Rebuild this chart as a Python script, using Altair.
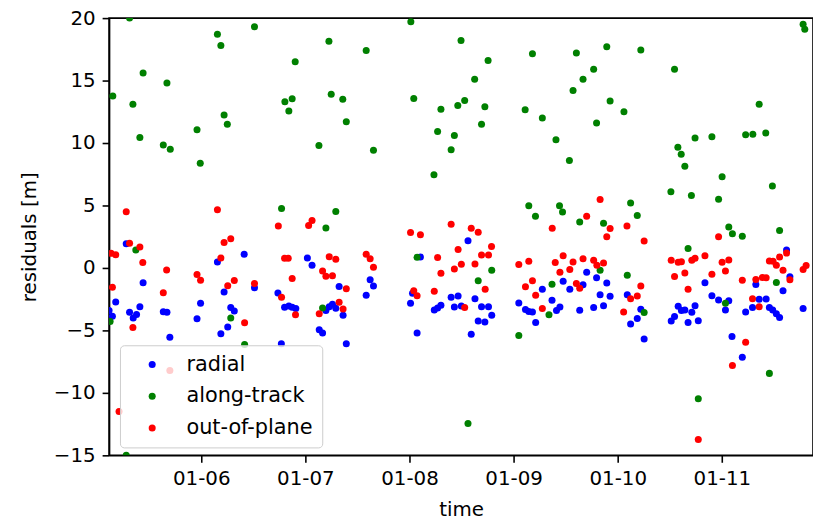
import altair as alt
import pandas as pd

# Day-of-January (fractional) and residual values [m]
radial_day = [5.279, 5.441, 5.178, 5.114, 5.146, 5.311, 5.346, 5.378, 5.41, 5.635, 5.67, 5.698,
              6.155, 6.412, 6.219, 5.993, 5.959, 6.283, 6.317, 6.254, 6.188, 6.511,
              7.019, 6.736, 6.8, 6.841, 6.873, 6.908, 6.769, 7.064, 7.324, 7.26, 7.229, 7.197,
              7.362, 7.292, 7.133, 7.165, 7.393, 7.622, 7.654, 7.584,
              8.105, 8.562, 8.029, 8.01, 8.4, 8.467, 8.629, 8.238, 8.27, 8.302, 8.431, 8.498,
              8.692, 8.759, 8.79, 8.66, 8.724, 8.593, 8.073,
              9.276, 9.369, 9.05, 9.114, 9.146, 9.181, 9.212, 9.702, 9.476, 9.797, 9.895,
              9.54, 9.667, 9.831, 9.927, 9.445, 9.412, 9.635, 9.769, 9.864,
              10.092, 10.222, 10.188, 10.124, 10.254,
              10.838, 11.327, 10.905, 10.969, 11.067, 11.035, 10.581, 10.612, 10.645, 10.712,
              10.743, 10.546, 10.514, 10.676, 10.774, 11.229, 11.359, 11.426, 11.295, 11.457,
              11.489, 11.524, 11.555, 11.098, 11.197, 11.622, 11.654, 11.588, 11.781]
radial_val = [1.94, -1.19, -2.72, -3.4, -3.86, -3.54, -4.0, -3.73, -3.1, -3.5, -3.54, -5.55,
              0.48, 1.09, -1.93, -2.83, -4.07, -3.17, -3.44, -4.73, -5.26, -1.59,
              0.79, -2.0, -3.14, -3.04, -3.14, -3.25, -6.06, 0.21, -1.48, -2.9, -3.1, -3.41,
              -3.78, -3.22, -4.94, -5.21, -6.06, -0.95, -1.45, -2.19,
              0.87, 2.17, -2.03, -2.83, -2.35, -2.25, -2.46, -3.36, -3.2, -2.98, -3.12, -3.04,
              -3.1, -3.1, -3.78, -4.25, -4.33, -5.31, -5.21,
              -1.71, -2.59, -2.8, -3.33, -3.49, -3.52, -4.37, -0.34, -1.06, -0.79, -1.21,
              -1.71, -1.35, -2.14, -2.27, -3.12, -3.41, -3.38, -3.17, -3.02,
              -2.14, -3.3, -4.05, -4.49, -5.68,
              -1.19, -1.32, -2.22, -2.56, -2.62, -3.36, -3.06, -3.41, -3.36, -3.54,
              -3.02, -3.89, -4.25, -4.37, -4.23, -3.52, -2.51, -2.48, -3.17, -3.17,
              -3.36, -3.67, -3.97, -5.48, -7.14, 1.43, -0.71, -1.83, -3.25]

along_day = [5.311, 5.15, 5.441, 5.343, 5.67, 5.41, 5.635, 5.702, 5.959, 5.99,
             6.155, 6.188, 6.219, 6.25, 6.511, 6.803, 6.873, 6.841, 6.902, 7.13, 7.226, 7.248,
             6.771, 7.197, 8.013, 7.584, 8.495, 9.181, 8.755, 8.626, 7.359, 8.041, 8.302,
             8.464, 8.53, 8.724, 9.111, 9.276, 7.393, 8.27, 8.431, 8.692, 9.407, 7.654, 8.4,
             8.235, 7.292, 9.146, 9.21, 9.441, 9.47, 11.781, 11.797, 9.603, 9.895, 10.222,
             9.769, 9.667, 9.571, 10.546, 9.927, 10.06, 9.797, 11.359, 9.536, 10.578, 10.61,
             10.645, 10.743, 10.905, 11.229, 11.298, 11.422, 11.003, 11.486, 10.511, 10.708,
             10.969, 10.124, 10.188, 9.635, 9.864, 11.067, 11.102, 11.197, 11.555,
             5.371, 5.124, 6.283, 6.416, 5.279, 7.165, 8.073, 8.79, 8.66, 9.369, 9.34, 9.05,
             10.676, 9.831, 10.092, 10.254, 11.035, 11.524, 8.562, 11.457, 10.774]
along_val = [20.0, 13.76, 15.6, 13.1, 14.8, 10.45, 9.84, 9.5, 11.06, 8.39,
             18.7, 17.8, 12.25, 11.5, 19.3, 13.3, 13.55, 12.57, 16.5, 9.8, 18.15, 13.9,
             4.76, 3.2, 19.7, 17.4, 18.2, 17.15, 16.6, 15.1, 13.5, 13.57, 12.7,
             13.0, 13.4, 12.9, 12.67, 12.0, 11.7, 10.93, 10.6, 11.5, 10.27, 9.42, 9.47,
             7.46, 4.52, 4.98, 4.13, 4.98, 4.48, 19.5, 19.1, 17.2, 17.7, 17.45,
             15.9, 15.1, 14.2, 15.9, 13.36, 12.5, 11.6, 13.1, 8.6, 9.66, 9.1,
             8.15, 10.4, 10.5, 10.67, 10.7, 10.8, 7.3, 6.56, 6.1, 5.8,
             5.5, 5.2, 4.2, 3.68, 3.57, 3.28, 2.73, 2.54, 3.0,
             1.43, -4.28, -4.0, -6.13, -15.0, -3.2, 0.85, -0.18, -1.03, -1.3, -3.75, -5.4,
             1.56, -0.18, -0.58, -3.57, -2.83, -1.16, -12.46, -8.44, -10.48]

plane_day = [5.279, 6.155, 6.74, 7.031, 7.064, 8.01, 8.105, 8.4, 8.593, 8.66, 9.371, 9.831,
             9.702, 9.927, 9.895, 10.089, 10.254, 10.969, 5.311, 5.41, 5.438, 5.133, 5.178,
             5.667, 5.146, 5.635, 5.343, 6.219, 6.283, 6.188, 5.959, 5.993, 6.317, 6.254,
             6.416, 6.511, 6.8, 6.835, 6.873, 6.771, 6.905, 5.698, 5.21, 7.229, 7.292, 7.165,
             7.197, 7.26, 7.393, 7.324, 7.133, 7.362, 7.584, 7.622, 7.654, 8.27, 8.788, 8.467,
             8.692, 8.759, 8.498, 8.431, 8.629, 8.302, 8.727, 8.041, 8.073, 8.238, 8.53,
             9.05, 9.146, 9.4, 9.181, 9.114, 9.212, 9.276, 9.476, 9.571, 9.667, 9.769, 9.864,
             9.8, 9.54, 9.445, 9.603, 9.635, 10.222, 10.188, 10.124, 10.057, 10.514, 10.581,
             10.612, 10.712, 10.743, 10.838, 11.003, 11.067, 11.035, 10.645, 10.905, 10.546,
             10.676, 11.197, 11.327, 11.39, 11.426, 11.295, 11.359, 11.229, 11.457, 11.492,
             11.524, 11.555, 11.622, 11.588, 11.654, 11.781, 11.81, 11.102, 10.774]
plane_val = [4.5, 4.66, 3.36, 3.39, 3.79, 2.83, 2.65, 3.49, 3.17, 2.86, 3.17, 5.48,
             4.13, 3.15, 2.5, 3.36, 2.15, 2.5, 1.98, 1.67, 0.43, 1.17, 1.06,
             -0.16, -1.55, -1.98, -4.76, 2.04, 2.33, 0.79, -0.52, -0.98, -1.0, -1.43,
             -4.39, -1.24, 0.77, 0.77, -0.84, -2.35, -3.75, -8.2, -11.5, 0.9, 0.69, -0.24,
             -0.66, -0.63, -1.67, -2.75, -3.67, -3.28, 1.09, 0.74, 0.06, 0.83, 1.72, 1.48,
             1.03, 1.03, 0.29, -0.08, 0.32, -0.42, -1.71, -1.83, -2.22, -1.87, -3.17,
             0.27, 0.53, 0.43, -1.03, -1.5, -2.19, -3.25, 0.98, 0.48, 0.74, 0.61, 0.4,
             0.21, -0.13, -0.34, -1.24, -1.63, -1.45, -2.25, -2.46, -3.52, 0.61, 0.45,
             0.5, 0.61, 0.77, 0.98, 0.45, 0.63, -0.24, -0.4, -0.5, -0.68,
             -1.71, -0.98, -0.92, -0.76, -0.79, -2.46, -3.1, -5.95, 0.56, 0.53,
             0.21, 0.87, 1.19, -0.18, -0.95, -0.13, 0.2, -7.8, -13.73]

series = ["radial", "along-track", "out-of-plane"]
colors = ["#0000ff", "#008000", "#ff0000"]

DAY_MS = 86400000
BASE = pd.Timestamp("2020-01-01", tz="UTC").value // 10**6  # ms of Jan 1


def to_ms(d):
    return BASE + (d - 1.0) * DAY_MS


rows = []
for name, days, vals in [("radial", radial_day, radial_val),
                         ("along-track", along_day, along_val),
                         ("out-of-plane", plane_day, plane_val)]:
    for d, v in zip(days, vals):
        rows.append({"time": to_ms(d), "residual": v, "series": name})
df = pd.DataFrame(rows)

tick_days = [6, 7, 8, 9, 10, 11]
x_domain = [to_ms(5.114), to_ms(11.876)]

FONT = "DejaVu Sans"

chart = alt.Chart(df).mark_point(filled=True, size=50, opacity=1, strokeWidth=0, clip=True).encode(
    x=alt.X("time:T",
            scale=alt.Scale(type="utc", domain=x_domain, nice=False),
            axis=alt.Axis(title="time", values=[to_ms(d) for d in tick_days],
                          labelExpr="utcFormat(datum.value, '%m-%d')",
                          labelPadding=6, titleY=55, titleBaseline="middle")),
    y=alt.Y("residual:Q",
            scale=alt.Scale(domain=[-15, 20], nice=False, zero=False),
            axis=alt.Axis(title="residuals [m]", values=[-15, -10, -5, 0, 5, 10, 15, 20],
                          labelPadding=7, titleX=-80, titleY=220.5, titleAngle=270,
                          titleAlign="center", titleBaseline="middle")),
    color=alt.Color("series:N", sort=series,
                    scale=alt.Scale(domain=series, range=colors),
                    legend=alt.Legend(title=None, orient="none", legendX=11, legendY=330,
                                      padding=9, symbolOffset=13, labelOffset=24,
                                      rowPadding=10, symbolType="circle", symbolSize=50,
                                      symbolStrokeWidth=0,
                                      fillColor="rgba(255,255,255,0.8)",
                                      strokeColor="#cccccc", cornerRadius=4,
                                      labelFont=FONT, labelFontSize=21, labelColor="black")),
).properties(
    width=710, height=441,
    autosize=alt.AutoSizeParams(type="none"),
    padding={"left": 110, "top": 16, "right": 0, "bottom": 66},
).configure_view(
    stroke="black", strokeWidth=1.6
).configure_axis(
    grid=False, domainColor="black", domainWidth=1.6, tickColor="black", tickWidth=1.6,
    tickSize=7, labelFont=FONT, labelFontSize=20, labelColor="black",
    titleFont=FONT, titleFontSize=20, titleFontWeight="normal", titleColor="black",
)

chart.save("out.html", embed_options={"renderer": "svg", "actions": False})
